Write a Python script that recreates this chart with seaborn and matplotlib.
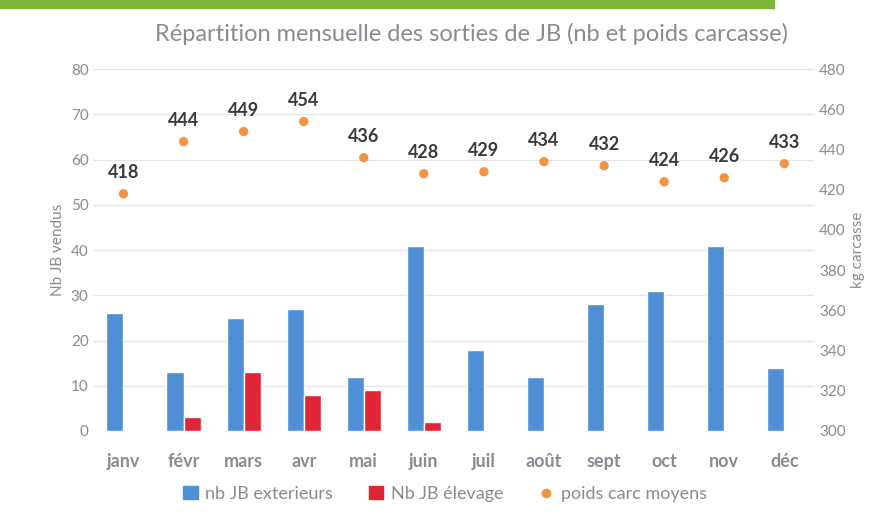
import seaborn as sns
import pandas as pd
import matplotlib.pyplot as plt
import numpy as np
from matplotlib.patches import Rectangle
from matplotlib.lines import Line2D

# data
months = ["janv", "févr", "mars", "avr", "mai", "juin",
          "juil", "août", "sept", "oct", "nov", "déc"]
nb_ext = [26, 13, 25, 27, 12, 41, 18, 12, 28, 31, 41, 14]
nb_elev = [0, 3, 13, 8, 9, 2, 0, 0, 0, 0, 0, 0]
poids = [418, 444, 449, 454, 436, 428, 429, 434, 432, 424, 426, 433]

lab_ext = "nb JB exterieurs"
lab_elev = "Nb JB élevage"
lab_poids = "poids carc moyens"

blue = "#4F8FD6"
red = "#E02636"
orange = "#F39444"
grey = "#8A8A94"

df = pd.DataFrame({"mois": months * 2,
                   "nb": nb_ext + nb_elev,
                   "serie": [lab_ext] * 12 + [lab_elev] * 12})

sns.set_style("white")
plt.rcParams['font.family'] = ['Lato', 'DejaVu Sans']

fig, ax = plt.subplots(figsize=(8.9, 5.13), dpi=100)
fig.subplots_adjust(left=0.105, right=0.915, top=0.865, bottom=0.16)

# green header strip from the document
fig.patches.append(Rectangle((0, 0.985), 0.87, 0.015, transform=fig.transFigure,
                             color="#7DB83A", zorder=0))

sns.barplot(data=df, x="mois", y="nb", hue="serie", order=months,
            palette=[blue, red], saturation=1, width=0.57, ax=ax,
            legend=False, zorder=3)
ax.set_ylim(0, 80)
ax.set_yticks(range(0, 81, 10))
ax.set_xlim(-0.5, 11.5)
ax.set_xlabel("")
ax.set_ylabel("Nb JB vendus", color=grey, fontsize=11)
ax.grid(axis="y", color="#E6E6E6", lw=0.9, zorder=0)
ax.tick_params(axis="y", colors=grey, labelsize=11, length=0)
ax.tick_params(axis="x", colors=grey, labelsize=13, length=0, pad=16)
for t in ax.get_xticklabels():
    t.set_fontweight("bold")
for s in ax.spines.values():
    s.set_visible(False)

ax2 = ax.twinx()
sns.scatterplot(x=np.arange(len(months)), y=poids, color=orange, s=45,
                edgecolor="none", ax=ax2, zorder=4)
for i, v in enumerate(poids):
    ax2.annotate(str(v), (i, v), xytext=(0, 9), textcoords="offset points",
                 ha="center", va="bottom", fontsize=13, fontweight="bold",
                 color="#3A3A3A")
ax2.set_ylim(300, 480)
ax2.set_yticks(range(300, 481, 20))
ax2.set_ylabel("kg carcasse", color=grey, fontsize=11)
ax2.tick_params(axis="y", colors=grey, labelsize=11, length=0)
for s in ax2.spines.values():
    s.set_visible(False)

fig.suptitle("Répartition mensuelle des sorties de JB (nb et poids carcasse)",
             color=grey, fontsize=17, x=0.53, y=0.955)

handles = [Rectangle((0, 0), 1, 1, color=blue),
           Rectangle((0, 0), 1, 1, color=red),
           Line2D([], [], ls="", marker="o", color=orange, markersize=6)]
leg = fig.legend(handles, [lab_ext, lab_elev, lab_poids], loc="lower center",
                 bbox_to_anchor=(0.5, -0.01), ncol=3, frameon=False,
                 fontsize=13, handlelength=0.8, handletextpad=0.4,
                 columnspacing=2.0)
for t in leg.get_texts():
    t.set_color(grey)

fig.savefig("out.png", dpi=100)
